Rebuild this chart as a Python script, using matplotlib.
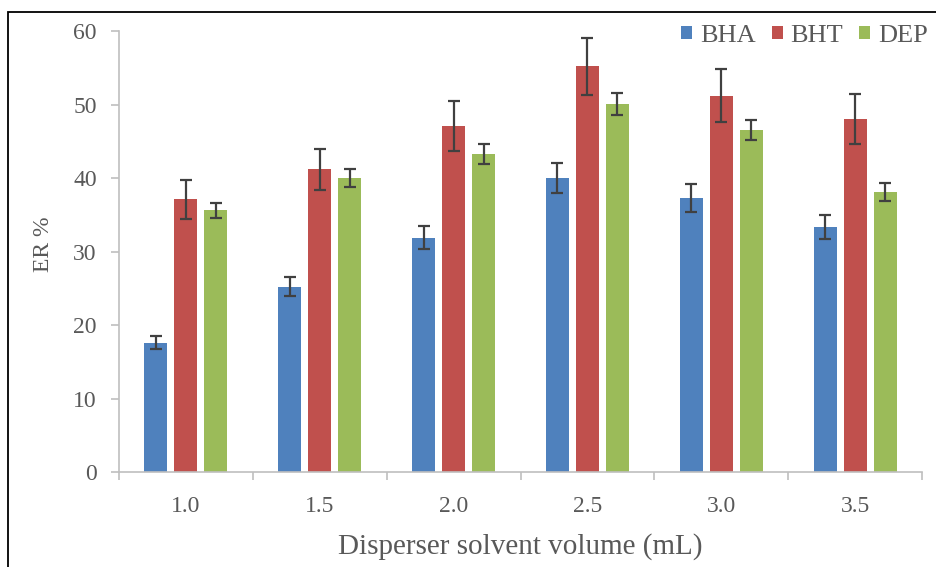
import numpy as np
import matplotlib
matplotlib.use("Agg")
import matplotlib.pyplot as plt
from matplotlib.patches import Rectangle

plt.rcParams['font.family'] = ['Liberation Serif', 'DejaVu Serif']

# data
volumes = ['1.0', '1.5', '2.0', '2.5', '3.0', '3.5']
bha = [17.6, 25.2, 31.9, 40.0, 37.3, 33.3]
bht = [37.1, 41.2, 47.1, 55.2, 51.2, 48.0]
dep = [35.6, 40.0, 43.3, 50.1, 46.6, 38.1]
bha_err = [0.9, 1.3, 1.6, 2.0, 1.85, 1.65]
bht_err = [2.6, 2.8, 3.4, 3.9, 3.6, 3.4]
dep_err = [1.05, 1.25, 1.35, 1.5, 1.35, 1.2]

series = [('BHA', bha, bha_err, '#4f81bd'),
          ('BHT', bht, bht_err, '#c0504d'),
          ('DEP', dep, dep_err, '#9bbb59')]

txt = '#595959'
axc = '#bfbfbf'

fig = plt.figure(figsize=(9.37, 5.67), dpi=100)
ax = fig.add_axes([0.127, 0.1676, 0.857, 0.7774])

x = np.arange(len(volumes))
w = 0.172
step = 0.224
for i, (name, vals, errs, col) in enumerate(series):
    ax.bar(x + (i - 1) * step, vals, w, color=col, label=name, zorder=2)
    ax.errorbar(x + (i - 1) * step, vals, yerr=errs, fmt='none',
                ecolor='#404040', elinewidth=1.6, capsize=4.5, capthick=1.6, zorder=3)

ax.set_xlim(-0.5, len(volumes) - 0.5)
ax.set_ylim(0, 60)
ax.set_yticks(range(0, 61, 10))
ax.set_xticks(x)
ax.set_xticklabels(volumes)
ax.set_xticks(np.arange(-0.5, len(volumes), 1.0), minor=True)
ax.tick_params(axis='x', which='major', length=0, pad=17, labelsize=17, labelcolor=txt)
ax.tick_params(axis='x', which='minor', length=6, color=axc, width=1.2)
ax.tick_params(axis='y', length=6, color=axc, width=1.2, labelsize=17, labelcolor=txt, pad=10)

for s in ['top', 'right']:
    ax.spines[s].set_visible(False)
for s in ['left', 'bottom']:
    ax.spines[s].set_color(axc)
    ax.spines[s].set_linewidth(1.2)

ax.set_xlabel('Disperser solvent volume (mL)', fontsize=21, color=txt)
ax.xaxis.set_label_coords(0.5, -0.138)
ax.set_ylabel('ER %', fontsize=17, color=txt)
ax.yaxis.set_label_coords(-0.081, 0.517)

fig.legend(*ax.get_legend_handles_labels(), loc='upper right',
           bbox_to_anchor=(928 / 937, 1 - 25 / 567), ncol=3, frameon=False,
           fontsize=19, labelcolor=txt, handlelength=0.42, handleheight=0.42,
           handletextpad=0.3, columnspacing=0.6, borderpad=0, borderaxespad=0)

# outer frame of the original picture
fig.patches.append(Rectangle((8 / 937, -0.1), 1.2, 1.1 - 12 / 567,
                             transform=fig.transFigure, fill=False,
                             edgecolor='black', linewidth=1.3))

fig.savefig('out.png', dpi=100)
